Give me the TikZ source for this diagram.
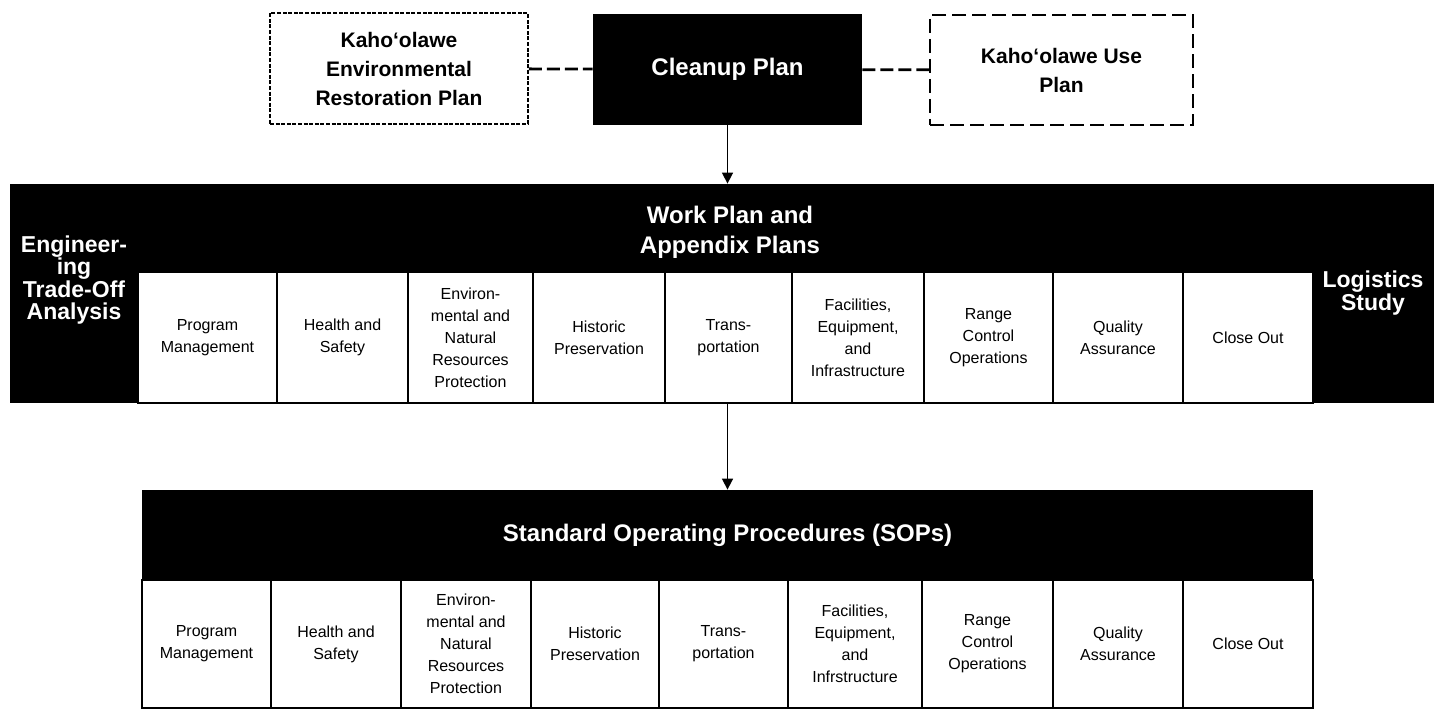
\documentclass[tikz,border=0pt]{standalone}
\usepackage{fontspec}
\setmainfont{Liberation Sans}
\usepackage{tikz}
\usetikzlibrary{arrows.meta, positioning}

\tikzset{
    topbox/.style={align=center, inner sep=0pt,
        font=\fontsize{10.5}{14.5}\selectfont\bfseries},
    blackbox/.style={fill=black, text=white, align=center, inner sep=0pt,
        font=\fontsize{12}{15}\selectfont\bfseries},
    sidetxt/.style={text=white, align=center, inner sep=0pt,
        font=\fontsize{11.5}{11.2}\selectfont\bfseries},
    cell/.style={draw, fill=white, line width=1pt, align=center, inner sep=0pt,
        font=\fontsize{8}{11}\selectfont},
    link/.style={line width=1.4pt, dash pattern=on 6.5pt off 2.5pt},
}

\begin{document}
\begin{tikzpicture}[x=0.5pt, y=-0.5pt, >={Triangle[width=5.5pt,length=5.5pt]}]

    \fill[white] (0,0) rectangle (1439,711);
    \useasboundingbox (0,0) rectangle (1439,711);

    % =================================================================
    % 1. TOP ROW: THE THREE PLANS
    % =================================================================
    \node[topbox, draw, line width=0.8pt, dash pattern=on 2pt off 0.8pt,
        minimum width=129pt, minimum height=55.5pt] (erp) at (399,68.5)
        {Kaho`olawe\\Environmental\\Restoration Plan};
    \node[blackbox, minimum width=134.5pt, minimum height=55.5pt] (cleanup)
        at (727.5,69.5) {Cleanup Plan};
    \node[topbox, draw, line width=1pt, dash pattern=on 7pt off 3pt,
        minimum width=131.5pt, minimum height=55pt] (use) at (1061.5,70)
        {Kaho`olawe Use\\Plan};

    \draw[link] (erp) -- (cleanup);
    \draw[link] (cleanup) -- (use);

    % =================================================================
    % 2. WORK PLAN AND APPENDIX PLANS
    % =================================================================
    \node[fill=black, inner sep=0pt, minimum width=712pt, minimum height=109.5pt]
        (wpband) at (722,293.5) {};
    \node[blackbox, fill=none] (wp) at (730,232) {Work Plan and\\Appendix Plans};
    \node[sidetxt] (eng) at (74,280) {Engineer-\\ing\\Trade-Off\\Analysis};
    \node[sidetxt] (logi) at (1373,293) {Logistics\\Study};

    \foreach \xa/\xb/\txt [count=\i] in {
        138/277/{Program\\Management},
        277/408/{Health and\\Safety},
        408/533/{Environ-\\mental and\\Natural\\Resources\\Protection},
        533/665/{Historic\\Preservation},
        665/792/{Trans-\\portation},
        792/924/{Facilities,\\Equipment,\\and\\Infrastructure},
        924/1053/{Range\\Control\\Operations},
        1053/1183/{Quality\\Assurance},
        1183/1313/{Close Out}} {
        \node[cell, minimum width={(\xb-\xa)*0.5pt}, minimum height=65.5pt]
            (c\i) at ({(\xa+\xb)/2},337.5) {\txt};
    }

    \draw[->, line width=0.8pt] (cleanup.south) -- (cleanup.south |- wpband.north);

    % =================================================================
    % 3. STANDARD OPERATING PROCEDURES
    % =================================================================
    \node[blackbox, minimum width=585.5pt, minimum height=45pt] (sop)
        at (727.5,535) {Standard Operating Procedures (SOPs)};

    \foreach \xa/\xb/\txt [count=\i] in {
        142/271/{Program\\Management},
        271/401/{Health and\\Safety},
        401/531/{Environ-\\mental and\\Natural\\Resources\\Protection},
        531/659/{Historic\\Preservation},
        659/788/{Trans-\\portation},
        788/922/{Facilities,\\Equipment,\\and\\Infrstructure},
        922/1053/{Range\\Control\\Operations},
        1053/1183/{Quality\\Assurance},
        1183/1313/{Close Out}} {
        \node[cell, minimum width={(\xb-\xa)*0.5pt}, minimum height=64pt]
            (s\i) at ({(\xa+\xb)/2},644) {\txt};
    }

    \draw[->, line width=0.8pt] (sop.north |- c5.south) -- (sop.north);

\end{tikzpicture}
\end{document}
